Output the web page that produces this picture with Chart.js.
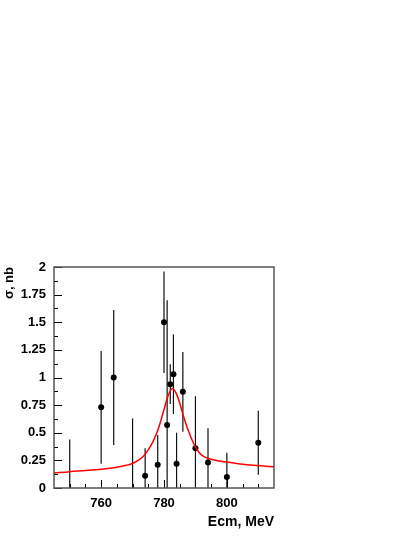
<!DOCTYPE html>
<html><head><meta charset="utf-8">
<script src="https://cdn.jsdelivr.net/npm/chart.js@4/dist/chart.umd.min.js"></script>
<style>html,body{margin:0;padding:0;background:#fff}#wrap{width:415px;height:537px}</style>
</head><body><div id="wrap"><canvas id="c" width="415" height="537"></canvas></div>
<script>
// Measured points (energy in MeV, cross section in nb, symmetric error)
const energies = [750, 760, 764, 770, 774, 778, 780, 781, 782, 783, 784, 786, 790, 794, 800, 810];
const sigma    = [-0.2, 0.73, 1.0, -0.1, 0.11, 0.21, 1.5, 0.57, 0.94, 1.03, 0.22, 0.87, 0.36, 0.23, 0.10, 0.41];
const sigmaErr = [0.64, 0.51, 0.61, 0.73, 0.25, 0.27, 0.46, 1.13, 0.18, 0.36, 0.28, 0.36, 0.47, 0.31, 0.22, 0.29];
// Fit curve
const curveE     = [745, 750, 755, 760, 765, 768, 770, 772, 773.5, 775, 776.5, 778, 779, 780, 781, 782, 782.6, 783.2, 784, 785, 786, 787, 788, 789, 790, 791.5, 793, 795, 797.5, 800, 805, 810, 815];
const curveSigma = [0.135, 0.148, 0.158, 0.170, 0.188, 0.205, 0.222, 0.255, 0.29, 0.345, 0.42, 0.52, 0.61, 0.71, 0.81, 0.88, 0.90, 0.89, 0.85, 0.77, 0.67, 0.58, 0.50, 0.43, 0.37, 0.31, 0.28, 0.26, 0.245, 0.235, 0.215, 0.203, 0.192];
// Axis ticks
const xTickLabels = [760, 780, 800];
const xMinorTicks = [750, 755, 765, 770, 775, 785, 790, 795, 805, 810];
const yTickLabels = [0, 0.25, 0.5, 0.75, 1, 1.25, 1.5, 1.75, 2];
const yMinorTicks = [0.125, 0.375, 0.625, 0.875, 1.125, 1.375, 1.625, 1.875];

const FONT = "'Liberation Sans', Arial, Helvetica, sans-serif";

const framePlugin = {
  id: 'frame',
  beforeDatasetsDraw(chart) {
    const {ctx, chartArea: a, scales: {x, y}} = chart;
    ctx.save();
    ctx.beginPath();
    ctx.rect(a.left, a.top, a.right - a.left, a.bottom - a.top);
    ctx.clip();
    ctx.strokeStyle = '#111';
    ctx.lineWidth = 1.2;
    energies.forEach((e, i) => {
      const px = x.getPixelForValue(e);
      const y1 = y.getPixelForValue(sigma[i] - sigmaErr[i]);
      const y2 = y.getPixelForValue(sigma[i] + sigmaErr[i]);
      ctx.beginPath();
      ctx.moveTo(px, y1);
      ctx.lineTo(px, y2);
      ctx.stroke();
    });
    ctx.restore();
  },
  afterDraw(chart) {
    const {ctx, chartArea: a, scales: {x, y}} = chart;
    ctx.save();
    ctx.strokeStyle = '#000';
    ctx.lineWidth = 1;
    const tick = (px, len, horiz) => {
      ctx.beginPath();
      if (horiz) { ctx.moveTo(px, a.bottom); ctx.lineTo(px, a.bottom - len); }
      else { ctx.moveTo(a.left, px); ctx.lineTo(a.left + len, px); }
      ctx.stroke();
    };
    xTickLabels.forEach(v => tick(Math.round(x.getPixelForValue(v)) + 0.5, 8, true));
    xMinorTicks.forEach(v => tick(Math.round(x.getPixelForValue(v)) + 0.5, 4, true));
    yTickLabels.forEach(v => tick(Math.round(y.getPixelForValue(v)) + 0.5, 8, false));
    yMinorTicks.forEach(v => tick(Math.round(y.getPixelForValue(v)) + 0.5, 4, false));
    ctx.strokeStyle = '#555';
    ctx.lineWidth = 1.5;
    ctx.strokeRect(a.left, a.top, a.right - a.left, a.bottom - a.top);
    ctx.restore();
  }
};

new Chart(document.getElementById('c'), {
  type: 'scatter',
  data: {
    datasets: [
      {
        type: 'line',
        data: curveE.map((e, i) => ({x: e, y: curveSigma[i]})),
        borderColor: '#ff0000',
        borderWidth: 1.5,
        pointRadius: 0,
        fill: false,
        cubicInterpolationMode: 'monotone'
      },
      {
        data: energies.map((e, i) => ({x: e, y: sigma[i]})),
        backgroundColor: '#000',
        borderColor: '#000',
        pointRadius: 3,
        borderWidth: 0
      }
    ]
  },
  options: {
    responsive: false,
    animation: false,
    devicePixelRatio: 1,
    layout: {padding: {top: 267, right: 141, left: 0, bottom: 0}},
    plugins: {legend: {display: false}, tooltip: {enabled: false}},
    scales: {
      x: {
        type: 'linear', min: 745, max: 815,
        afterFit: s => { s.height = 49; },
        afterBuildTicks: s => { s.ticks = xTickLabels.map(v => ({value: v})); },
        grid: {display: false, drawTicks: false},
        border: {display: false},
        ticks: {padding: 8, color: '#000', font: {family: FONT, size: 13, weight: 'bold'}, callback: v => String(v), maxRotation: 0, autoSkip: false},
        title: {display: true, text: 'Ecm, MeV', align: 'end', color: '#000', font: {family: FONT, size: 14, weight: 'bold'}, padding: {top: 0, bottom: 6}}
      },
      y: {
        type: 'linear', min: 0, max: 2,
        afterFit: s => { s.width = 54; },
        afterBuildTicks: s => { s.ticks = yTickLabels.map(v => ({value: v})); },
        grid: {display: false, drawTicks: false},
        border: {display: false},
        ticks: {padding: 8, color: '#000', font: {family: FONT, size: 13, weight: 'bold'}, callback: v => String(v), autoSkip: false},
        title: {display: true, text: 'σ, nb', align: 'end', color: '#000', font: {family: FONT, size: 13, weight: 'bold'}, padding: {top: 2, bottom: 0}}
      }
    }
  },
  plugins: [framePlugin]
});
</script>
</body></html>
